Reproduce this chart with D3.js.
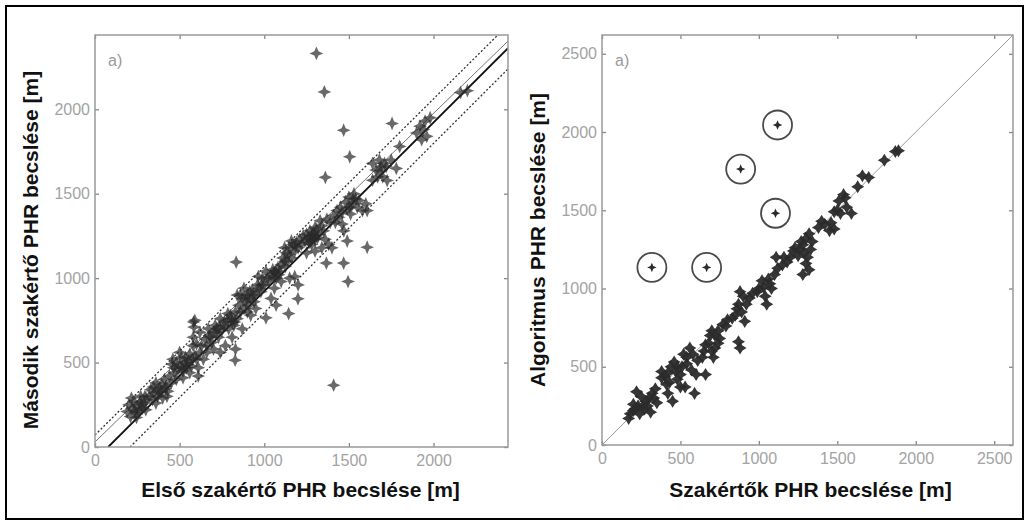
<!DOCTYPE html>
<html>
<head>
<meta charset="utf-8">
<script src="https://cdn.jsdelivr.net/npm/d3@7"></script>
<style>
  body { margin: 0; background: #fff; }
  svg text { font-family: "Liberation Sans", Arial, sans-serif; }
</style>
</head>
<body>
<svg id="chart" width="1030" height="526"></svg>
<script>
"use strict";

// Left panel: first expert vs second expert estimate [m]
const leftPoints = [
    [190,210],[200,250],[210,180],[220,230],[230,270],[240,200],[250,240],[260,210],[270,300],[280,230],
    [290,260],[300,220],[215,290],[245,175],[275,250],[305,280],[235,215],[265,265],[295,300],
    [320,300],[330,340],[340,280],[350,320],[360,380],[370,300],[380,350],[390,330],[400,290],[410,400],
    [420,360],[430,330],[440,420],[450,380],[360,260],[395,370],[425,300],[345,355],[375,325],[415,345],
    [460,520],[470,440],[480,500],[490,460],[500,480],[510,530],[520,450],[530,500],[540,470],[550,510],
    [560,550],[570,480],[580,600],[590,540],[600,520],[610,470],[620,560],[630,600],[480,400],[520,410],
    [560,440],[610,420],[640,520],[455,490],[500,560],[465,470],[535,530],[575,520],[545,490],[515,470],
    [650,640],[660,600],[670,700],[680,650],[690,620],[700,680],[710,720],[720,700],[730,650],[740,760],
    [750,690],[760,720],[770,600],[780,750],[790,700],[800,780],[810,740],[820,720],[830,800],[840,760],
    [700,580],[740,560],[660,560],[620,680],[580,650],[600,610],[590,750],[585,710],[675,660],[715,680],
    [765,740],[805,760],[825,740],[785,790],[735,710],
    [850,840],[860,800],[870,880],[880,820],[890,860],[900,900],[910,840],[920,880],[930,930],[940,860],
    [950,900],[960,960],[970,940],[980,920],[990,1000],[860,900],[880,940],[900,800],[920,780],[950,820],
    [1000,960],[1010,1040],[840,900],[870,700],[810,650],[830,580],[895,880],[935,900],[965,1010],
    [915,920],[985,960],
    [1020,1000],[1030,980],[1040,1020],[1050,1050],[1060,1030],[1070,1000],[1080,1060],[1090,1040],
    [1100,1080],[1110,1120],[1120,1100],[1130,1150],[1140,1100],[1150,1180],[1160,1120],[1170,1200],
    [1180,1160],[1190,1210],[1200,1180],[1060,940],[1100,980],[1150,1000],[1180,1010],[1200,960],
    [1040,880],[1070,840],[1120,1180],[1160,1220],[1055,1010],[1065,1040],[1145,1140],[1185,1190],
    [1125,1070],[1085,1020],
    [1210,1230],[1220,1200],[1230,1250],[1240,1220],[1250,1260],[1260,1240],[1270,1280],[1280,1250],
    [1290,1270],[1300,1230],[1310,1290],[1320,1260],[1280,1200],[1300,1300],[1330,1340],[1340,1310],
    [1350,1280],[1360,1230],[1370,1350],[1380,1200],[1390,1330],[1400,1180],[1250,1150],[1300,1160],
    [1340,1180],[1285,1235],[1295,1255],[1275,1220],[1315,1240],[1265,1210],
    [1410,1370],[1420,1330],[1430,1400],[1440,1360],[1450,1420],[1460,1390],[1470,1280],[1480,1450],
    [1490,1410],[1500,1480],[1510,1380],[1520,1440],[1530,1500],[1540,1470],[1550,1420],[1560,1460],
    [1580,1400],[1600,1440],[1460,1320],[1490,1220],[1525,1470],[1505,1420],
    [1640,1580],[1660,1640],[1680,1700],[1700,1600],[1710,1680],[1720,1660],[1750,1700],[1780,1650],
    [1640,1680],[1900,1860],[1920,1900],[1940,1880],[1960,1840],[1950,1930],[1930,1820],[1800,1780],
    [1980,1950],[1690,1660],[1670,1600],
    // outliers
    [1308,2331],[1355,2103],[1469,1876],[1505,1719],[1361,1597],[1755,1916],[2160,2099],[2200,2110],
    [1608,1183],[1367,1089],[1469,1089],[1495,980],[1410,366],[834,1095],[828,514],[582,740],
    [1144,790],[1010,765],[1199,878],[1686,1636],[1726,1578],[1608,1400]
];

// Reference lines on the left panel, [x1, y1, x2, y2] in metres
const leftRegLine = [0, 30, 2440, 2404];
const leftFitLine = [78, 0, 2440, 2362];
const leftUpperBand = [0, 71, 2380, 2440];
const leftLowerBand = [207, 0, 2440, 2239];

// Right panel: experts vs algorithm estimate [m]
const rightPoints = [
    [1890,1880],[1870,1875],[1800,1820],[1700,1710],[1660,1720],[1630,1650],
    [1540,1600],[1550,1580],[1510,1560],[1500,1500],[1520,1480],[1590,1480],[1560,1520],[1480,1490],
    [1400,1430],[1460,1420],[1450,1370],[1480,1380],[1420,1410],[1380,1390],
    [1320,1350],[1300,1320],[1340,1300],[1280,1280],[1260,1250],[1290,1230],[1310,1200],[1250,1210],
    [1230,1260],[1270,1300],[1300,1160],[1280,1090],[1320,1120],[1200,1200],[1160,1200],[1110,1200],
    [1150,1150],[1120,1130],[1180,1170],[1220,1240],[1330,1250],
    [1100,1090],[1060,1060],[1030,1010],[1080,1000],[1040,950],[1050,900],[990,980],[1000,1000],
    [1070,1030],[1020,1050],[960,970],[940,940],
    [880,980],[900,950],[870,900],[920,900],[860,870],[890,850],[850,830],[910,790],[880,620],[870,660],
    [830,810],[800,800],[790,760],
    [770,770],[740,730],[720,700],[750,680],[700,730],[690,700],[680,650],[740,650],[720,620],[660,640],
    [650,600],[700,600],[710,560],
    [640,560],[610,540],[580,580],[560,620],[540,560],[520,580],[540,520],[600,450],[660,450],[570,480],
    [510,500],[480,500],[470,470],[500,450],[480,420],[460,530],[440,500],[420,460],[400,440],[380,430],
    [430,400],[500,370],[530,370],[420,330],[590,330],[450,280],[410,390],[380,470],
    [320,330],[340,360],[300,300],[280,280],[260,250],[230,250],[210,230],[200,220],[180,200],[170,170],
    [220,340],[250,310],[270,230],[290,250],[310,210],[240,200],[200,260],[350,270],[330,300]
];

// Outliers the algorithm got wrong, circled
const circledPoints = [[1119,2045],[884,1763],[1106,1481],[318,1135],[667,1135]];

const leftTicks = [0, 500, 1000, 1500, 2000];
const rightTicks = [0, 500, 1000, 1500, 2000, 2500];

const leftTitleX = "Első szakértő PHR becslése [m]";
const leftTitleY = "Második szakértő PHR becslése [m]";
const rightTitleX = "Szakértők PHR becslése [m]";
const rightTitleY = "Algoritmus PHR becslése [m]";

const svg = d3.select("#chart");

// Outer frame
svg.append("rect")
    .attr("x", 6).attr("y", 6)
    .attr("width", 1017).attr("height", 513)
    .attr("fill", "#fff")
    .attr("stroke", "#000")
    .attr("stroke-width", 2);

// 4-point star marker (custom d3.symbol type)
function starType(inner) {
    return {
        draw(ctx, size) {
            const r = Math.sqrt(size) / 2, a = r * inner;
            ctx.moveTo(0, -r);
            ctx.lineTo(a, -a);
            ctx.lineTo(r, 0);
            ctx.lineTo(a, a);
            ctx.lineTo(0, r);
            ctx.lineTo(-a, a);
            ctx.lineTo(-r, 0);
            ctx.lineTo(-a, -a);
            ctx.closePath();
        }
    };
}

function drawPanel(opts) {
    const x = d3.scaleLinear().domain([0, opts.max]).range([opts.left, opts.right]);
    const y = d3.scaleLinear().domain([0, opts.max]).range([opts.bottom, opts.top]);
    const g = svg.append("g");

    const clipId = "clip" + opts.id;
    svg.append("clipPath").attr("id", clipId)
        .append("rect")
        .attr("x", opts.left).attr("y", opts.top)
        .attr("width", opts.right - opts.left)
        .attr("height", opts.bottom - opts.top);

    // axes with inward ticks on all four sides
    const tickColor = "#888";
    const styleAxis = (sel) => {
        sel.select(".domain").remove();
        sel.selectAll(".tick line").attr("stroke", tickColor).attr("stroke-width", 1.3);
        sel.selectAll(".tick text")
            .attr("fill", "#a3a3a3")
            .style("font-size", "16px");
    };
    g.append("g").attr("transform", `translate(0,${opts.bottom})`)
        .call(d3.axisBottom(x).tickValues(opts.ticks).tickSize(-4).tickPadding(8).tickFormat(d3.format("d")))
        .call(styleAxis);
    g.append("g").attr("transform", `translate(${opts.left},0)`)
        .call(d3.axisLeft(y).tickValues(opts.ticks).tickSize(-4).tickPadding(5).tickFormat(d3.format("d")))
        .call(styleAxis);
    g.append("g").attr("transform", `translate(0,${opts.top})`)
        .call(d3.axisTop(x).tickValues(opts.ticks).tickSize(-4).tickFormat(""))
        .call(styleAxis);
    g.append("g").attr("transform", `translate(${opts.right},0)`)
        .call(d3.axisRight(y).tickValues(opts.ticks).tickSize(-4).tickFormat(""))
        .call(styleAxis);

    const plot = g.append("g").attr("clip-path", `url(#${clipId})`);

    (opts.lines || []).forEach((l) => {
        plot.append("line")
            .attr("x1", x(l.d[0])).attr("y1", y(l.d[1]))
            .attr("x2", x(l.d[2])).attr("y2", y(l.d[3]))
            .attr("stroke", l.color)
            .attr("stroke-width", l.width)
            .attr("stroke-dasharray", l.dash || null);
    });

    plot.selectAll("path.pt")
        .data(opts.points)
        .join("path")
        .attr("class", "pt")
        .attr("transform", (d) => `translate(${x(d[0])},${y(d[1])})`)
        .attr("d", d3.symbol().type(starType(opts.inner)).size(opts.size))
        .attr("fill", opts.fill)
        .attr("fill-opacity", opts.opacity);

    (opts.circles || []).forEach((d) => {
        plot.append("path")
            .attr("transform", `translate(${x(d[0])},${y(d[1])})`)
            .attr("d", d3.symbol().type(starType(0.3)).size(90))
            .attr("fill", opts.fill);
        plot.append("circle")
            .attr("cx", x(d[0])).attr("cy", y(d[1]))
            .attr("r", 14.5)
            .attr("fill", "none")
            .attr("stroke", "#4a4a4a")
            .attr("stroke-width", 1.8);
    });

    // frame
    g.append("rect")
        .attr("x", opts.left).attr("y", opts.top)
        .attr("width", opts.right - opts.left)
        .attr("height", opts.bottom - opts.top)
        .attr("fill", "none")
        .attr("stroke", "#999")
        .attr("stroke-width", 1.5);

    g.append("text")
        .attr("x", opts.left + 13).attr("y", opts.top + 31)
        .attr("fill", "#9a9a9a")
        .style("font-size", "16px")
        .text("a)");

    g.append("text")
        .attr("x", (opts.left + opts.right) / 2 + opts.titleShift)
        .attr("y", 497)
        .attr("text-anchor", "middle")
        .style("font-size", "21px")
        .style("font-weight", "bold")
        .attr("fill", "#111")
        .text(opts.titleX);

    g.append("text")
        .attr("transform", `translate(${opts.left - 57},${(opts.top + opts.bottom) / 2 + opts.titleShiftY}) rotate(-90)`)
        .attr("text-anchor", "middle")
        .style("font-size", "21px")
        .style("font-weight", "bold")
        .attr("fill", "#111")
        .text(opts.titleY);
}

drawPanel({
    id: "L", left: 95, right: 508, top: 35, bottom: 447, max: 2440,
    ticks: leftTicks, points: leftPoints,
    fill: "#2a2a2a", opacity: 0.7, size: 190, inner: 0.3,
    titleX: leftTitleX, titleY: leftTitleY, titleShift: -1, titleShiftY: 9,
    lines: [
        {d: leftUpperBand, color: "#333", width: 1.3, dash: "2,2"},
        {d: leftLowerBand, color: "#333", width: 1.3, dash: "2,2"},
        {d: leftRegLine, color: "#777", width: 1},
        {d: leftFitLine, color: "#111", width: 1.8}
    ]
});

drawPanel({
    id: "R", left: 602, right: 1013, top: 35, bottom: 445, max: 2620,
    ticks: rightTicks, points: rightPoints,
    fill: "#2b2b2b", opacity: 0.95, size: 170, inner: 0.38,
    titleX: rightTitleX, titleY: rightTitleY, titleShift: 3, titleShiftY: 0,
    lines: [{d: [0, 0, 2620, 2620], color: "#999", width: 1}],
    circles: circledPoints
});
</script>
</body>
</html>
